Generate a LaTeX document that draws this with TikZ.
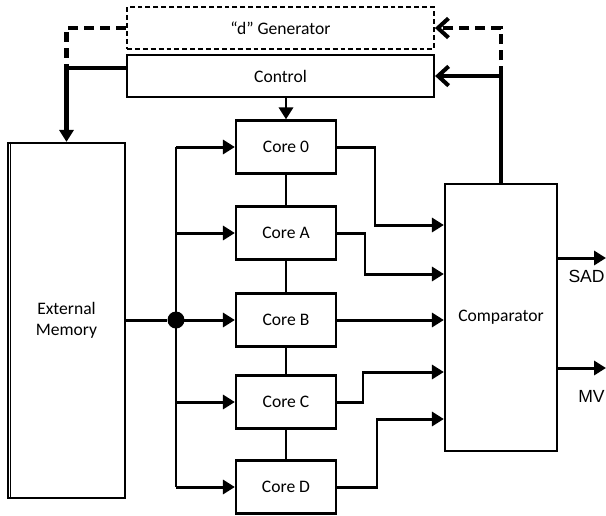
\documentclass[tikz,border=0pt]{standalone}
\usepackage{fontspec}
\setmainfont{Carlito}
\newfontfamily\arialfont{Liberation Sans}
\usetikzlibrary{calc, arrows.meta, positioning}

\tikzset{
  block/.style={draw, line width=1.3pt, fill=white, inner sep=0pt},
  core/.style={block, minimum width=2cm, minimum height=1.06cm},
  conn/.style={line width=1.7pt},
  ctl/.style={line width=2.3pt},
  ctldash/.style={line width=2.3pt, dash pattern=on 5.7pt off 3.4pt},
  fwd/.style={-{Triangle[length=6.8pt,width=8pt]}},
  back/.style={-{Straight Barb[length=6pt,width=11pt]}},
}

\begin{document}
\begin{tikzpicture}[x=0.02cm, y=-0.02cm]
  \useasboundingbox (0,0) rectangle (606,515);

  % top boxes
  \node[block, line width=1.1pt, dash pattern=on 2.8pt off 1.7pt,
        minimum width=6.14cm, minimum height=0.84cm] (gen) at (280.5,28) {“d” Generator};
  \node[block, minimum width=6.14cm, minimum height=0.84cm] (ctrl) at (280.5,76) {Control};

  % memory and comparator
  \node[block, align=center, minimum width=2.34cm, minimum height=7.1cm] (mem) at (66.5,320.5) {External\\Memory};
  \draw[line width=0.8pt] ([xshift=2.2pt]mem.north west) -- ([xshift=2.2pt]mem.south west);
  \node[block, minimum width=2.24cm, minimum height=5.34cm] (cmp) at (501,317.5) {Comparator};

  % cores
  \foreach \n/\y in {0/147, A/233, B/320, C/402, D/487}
    \node[core] (core\n) at (286,\y) {Core \n};
  \foreach \a/\b in {0/A, A/B, B/C, C/D}
    \draw[conn] (core\a.south) -- (core\b.north);

  % bus from memory
  \node[circle, fill, inner sep=0pt, minimum size=0.34cm] (hub) at (176,320) {};
  \draw[conn] (mem.east |- hub) -- (hub);
  \draw[conn] (core0.west -| hub) -- (coreD.west -| hub);
  \foreach \n in {0,A,B,C,D}
    \draw[conn,fwd] (core\n.west -| hub) -- (core\n.west);

  \draw[conn,fwd] (ctrl.south -| core0.north) -- (core0.north);

  % control to memory
  \coordinate (lj) at ($(ctrl.west -| mem.north)+(0,-8)$);
  \draw[ctl,fwd] (lj -| ctrl.west) -- (lj) -- (mem.north);
  \draw[ctldash] (gen.west) -| (lj);

  % comparator back to control
  \coordinate (rj) at (ctrl.east -| cmp.north);
  \draw[line width=2.8pt] (cmp.north) -- (rj);
  \draw[ctl,back] (rj) -- (ctrl.east);
  \draw[ctldash,back] (rj) |- (gen.east);

  % cores to comparator
  \foreach \n/\ex/\iy in {0/375/225, A/365/274, C/363/372, D/377/419}
    \draw[conn,fwd] (core\n.east) -| (\ex,\iy) -- (cmp.west |- 0,\iy);
  \draw[conn,fwd] (coreB.east) -- (cmp.west |- coreB.east);

  % outputs
  \coordinate (sadend) at (606,258);
  \coordinate (mvend) at (606,368);
  \draw[conn,fwd] (cmp.east |- sadend) -- (sadend);
  \draw[conn,fwd] (cmp.east |- mvend) -- (mvend);
  \node[font=\arialfont, anchor=east, inner sep=0pt] (sad) at (605,276) {SAD};
  \node[font=\arialfont, anchor=east, inner sep=0pt] (mv) at (605,396) {MV};
\end{tikzpicture}
\end{document}
